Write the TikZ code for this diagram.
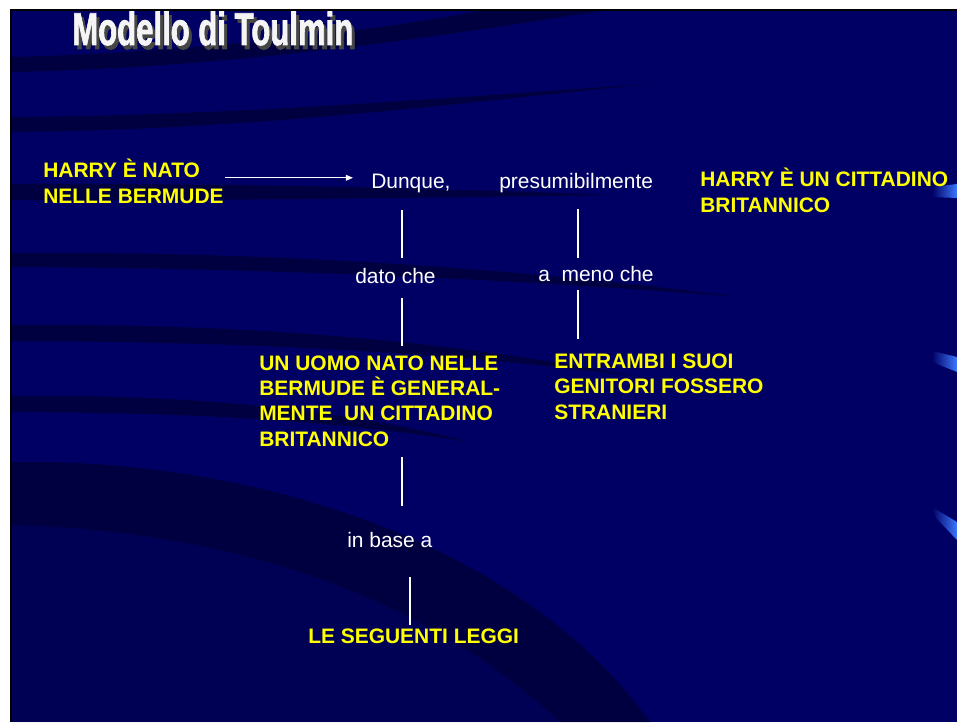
\documentclass[tikz,border=0pt]{standalone}
\usepackage{fontspec}
\setmainfont{Liberation Sans}
\newfontfamily\headfont[BoldFeatures={FakeBold=2}]{Liberation Sans}
\usetikzlibrary{arrows.meta,positioning}
\definecolor{slide}{RGB}{0,0,100}
\definecolor{bandDk}{RGB}{0,0,38}
\definecolor{ribbon}{RGB}{60,120,255}
\definecolor{claimY}{RGB}{255,255,0}
\newcommand\slidetitle[1]{\scalebox{0.674}[1]{\headfont\fontsize{32.8}{36}\selectfont\bfseries #1}}

\begin{document}
\begin{tikzpicture}[x=0.025cm, y=-0.025cm, >={Triangle[length=5pt,width=4pt]},
  band/.style={fill=bandDk, fill opacity=0.55},
  yel/.style={text=claimY, font=\fontsize{14.9}{17.8}\selectfont\bfseries,
              align=left, inner sep=0pt, anchor=base west},
  wht/.style={text=white, font=\fontsize{14.9}{17.8}\selectfont,
              inner sep=0pt, anchor=base west},
  vline/.style={draw=white, line width=1.4pt},
  link/.style={draw=white, line width=0.8pt}]
  \useasboundingbox (0,0) rectangle (957,722);
  % slide background
  \fill[white] (0,0) rectangle (957,722);
  \fill[black] (10,9) rectangle (957,722);
  \fill[slide] (12,11) rectangle (957,722);
  \begin{scope}
    \clip (12,11) rectangle (957,722);
    \fill[band] (12,57) .. controls (200,52) and (380,30) .. (480,11)
      -- (600,11) .. controls (420,40) and (220,68) .. (12,72) -- cycle;
    \fill[band] (12,117) .. controls (250,115) and (450,97) .. (650,84)
      .. controls (450,104) and (250,130) .. (12,132) -- cycle;
    \fill[band] (12,184) .. controls (200,183) and (400,187) .. (620,195)
      .. controls (400,198) and (200,201) .. (12,200) -- cycle;
    \fill[band] (12,253) .. controls (250,251) and (500,266) .. (740,297)
      .. controls (500,278) and (250,268) .. (12,267) -- cycle;
    \fill[band] (12,325) .. controls (250,323) and (450,341) .. (640,377)
      .. controls (450,352) and (250,342) .. (12,341) -- cycle;
    \fill[band] (12,396) .. controls (200,394) and (350,411) .. (470,442)
      .. controls (330,420) and (200,413) .. (12,412) -- cycle;
    \fill[band] (12,462) .. controls (250,458) and (520,540) .. (650,722)
      -- (560,722) .. controls (420,590) and (220,530) .. (12,525) -- cycle;
    \fill[bandDk, fill opacity=0.25] (12,525) .. controls (220,530) and (420,590) .. (560,722)
      -- (12,722) -- cycle;
    % bright ribbon ends at the right edge
    \shade[left color=slide, right color=ribbon] (932,187) -- (957,184)
      -- (957,198) -- (932,197) -- cycle;
    \shade[left color=slide, right color=ribbon] (932,351) -- (957,357)
      -- (957,372) -- (932,362) -- cycle;
    \shade[left color=slide, right color=ribbon] (932,507) -- (957,522)
      -- (957,540) -- (936,518) -- cycle;
  \end{scope}

  % title
  \node[anchor=base west, inner sep=0pt, text=gray!55!black] (titleshadow) at (75,49)
    {\slidetitle{Modello di Toulmin}};
  \node[anchor=base west, inner sep=0pt, text=gray!8] (title) at (72,45)
    {\slidetitle{Modello di Toulmin}};

  % Toulmin scheme (base = last line)
  \node[yel] (data) at (43,203) {HARRY È NATO\\NELLE BERMUDE};
  \node[wht] (dunque) at (371,188) {Dunque,};
  \node[wht] (presum) at (499,188) {presumibilmente};
  \node[yel] (claim) at (700,212) {HARRY È UN CITTADINO\\BRITANNICO};
  \node[wht] (dato) at (355,283) {dato che};
  \node[wht] (meno) at (538,281) {a\ \ meno che};
  \node[yel] (warrant) at (259,446)
    {UN UOMO NATO NELLE\\BERMUDE È GENERAL-\\MENTE\ \ UN CITTADINO\\BRITANNICO};
  \node[yel] (rebuttal) at (554,419) {ENTRAMBI I SUOI\\GENITORI FOSSERO\\STRANIERI};
  \node[wht] (inbase) at (347,547) {in base a};
  \node[yel] (backing) at (308,643) {LE SEGUENTI LEGGI};

  \coordinate (colA) at (402,0);
  \coordinate (colB) at (578,0);
  \coordinate (colC) at (410,0);
  \coordinate (arrowstart) at ([yshift=2.5pt]data.east);

  \draw[link,->, shorten <=0.7pt, shorten >=12.8pt] (arrowstart) -- (arrowstart -| dunque.west);
  \draw[vline, shorten <=12.4pt, shorten >=7.1pt] (dunque.south -| colA) -- (dato.north -| colA);
  \draw[vline, shorten <=10pt, shorten >=7.1pt] (dato.south -| colA) -- (warrant.north -| colA);
  \draw[vline, shorten <=11.7pt, shorten >=5.7pt] (presum.south -| colB) -- (meno.north -| colB);
  \draw[vline, shorten <=5.7pt, shorten >=10.7pt] (meno.south -| colB) -- (rebuttal.north -| colB);
  \draw[vline, shorten <=7.8pt, shorten >=18.5pt] (warrant.south -| colA) -- (inbase.north -| colA);
  \draw[vline, shorten <=21.3pt, shorten >=2.1pt] (inbase.south -| colC) -- (backing.north -| colC);
\end{tikzpicture}
\end{document}
